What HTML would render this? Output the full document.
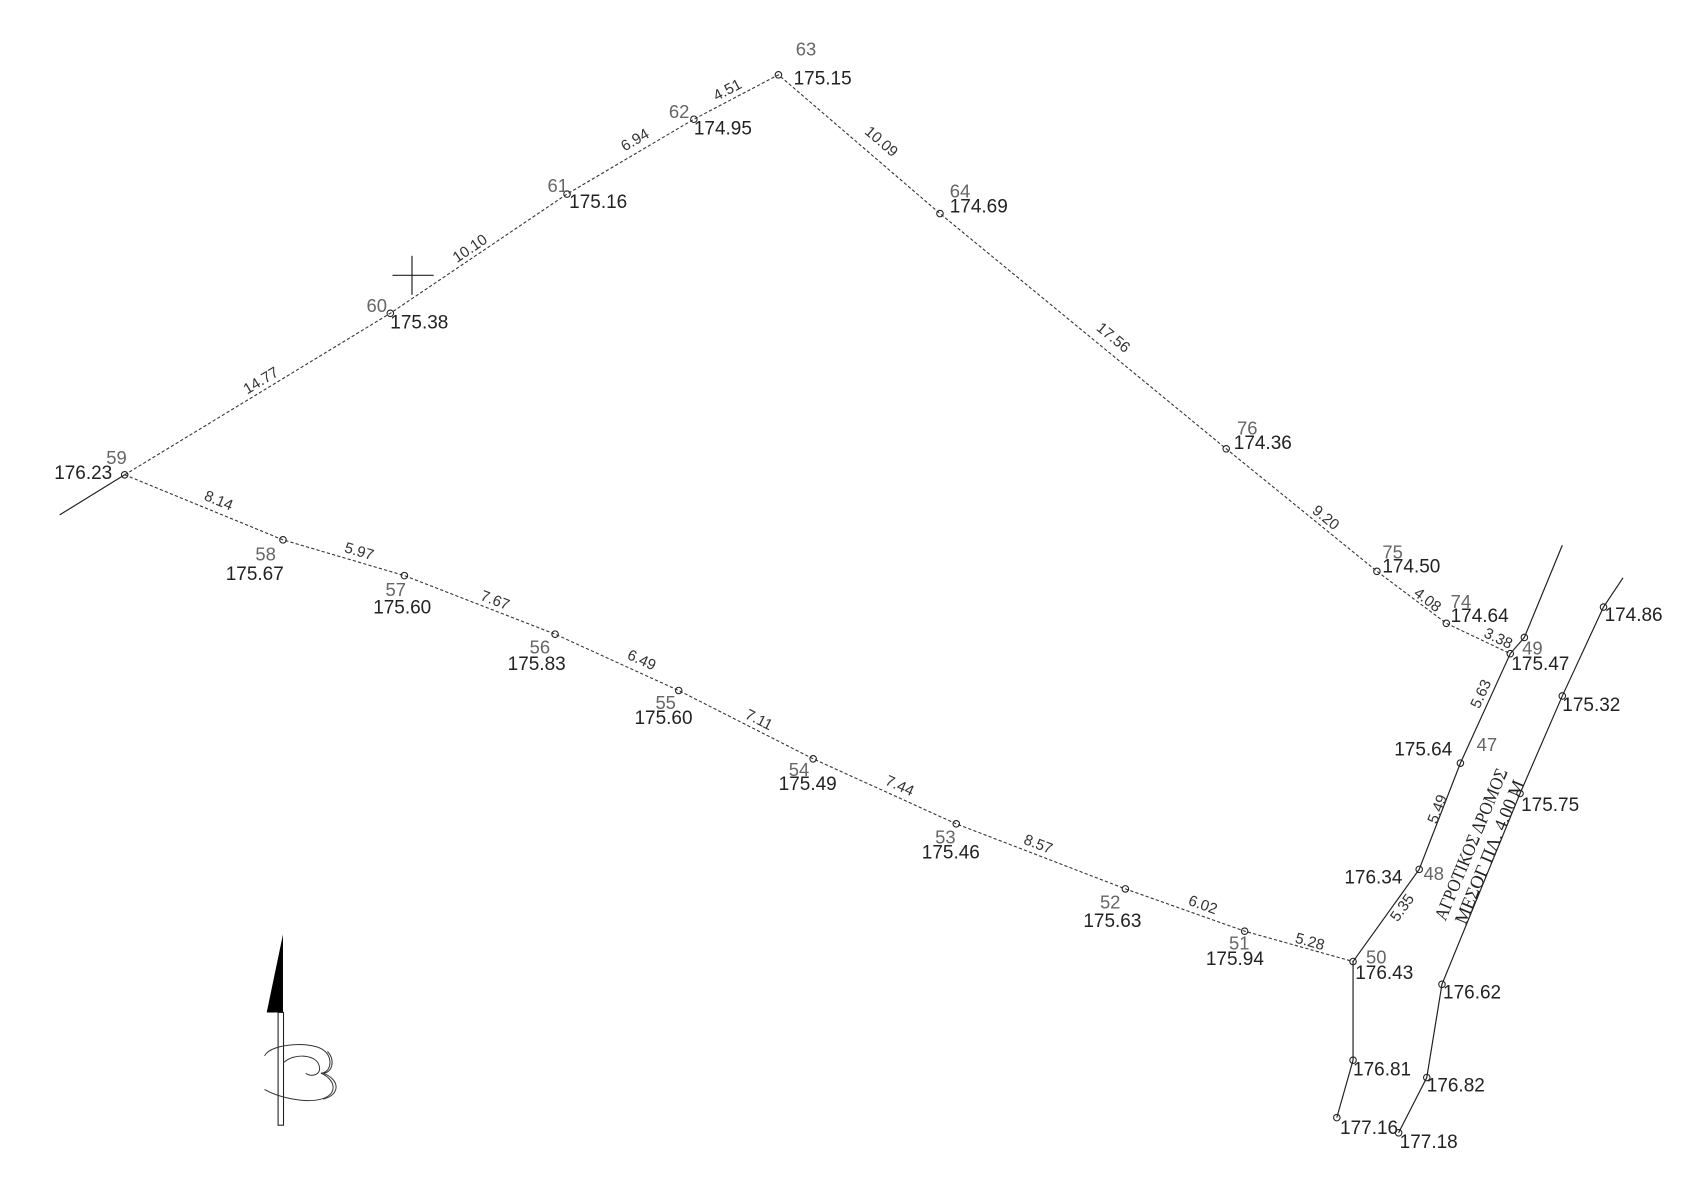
<!DOCTYPE html>
<html><head><meta charset="utf-8"><style>
html,body{margin:0;padding:0;background:#fff;width:1700px;height:1200px;overflow:hidden}
svg{display:block}
text{font-family:"Liberation Sans","DejaVu Sans",sans-serif}
.e{font-size:17.5px;fill:#222}
.n{font-size:17px;fill:#666}
.d{font-size:14px;fill:#333;text-anchor:middle}
.c{text-anchor:middle}
</style></head><body>
<svg width="1700" height="1200" viewBox="0 0 1568 1107" preserveAspectRatio="none" xmlns="http://www.w3.org/2000/svg">
<g fill="none" stroke="#333" stroke-width="1" stroke-dasharray="3,2">
<polyline points="115,438 360,289 523,179 640,110 718,69 867,197 1131,414 1270,527 1334,575 1393,603"/>
<polyline points="115,438 261,498 373,531 512,585 626,637 750,700 882,760 1038,820 1148,859 1248,887"/>
</g>
<g fill="none" stroke="#222" stroke-width="1.1">
<line x1="55" y1="475" x2="115" y2="438"/>
<polyline points="1441,503 1406,588 1393,603 1347,704 1309,802 1248,887 1248,978 1233,1031"/>
<polyline points="1497,533 1479,560 1441,642 1402,732 1330,908 1316,994 1290,1045"/>
<line x1="362" y1="254" x2="400" y2="254"/><line x1="380" y1="236" x2="380" y2="272"/>
</g>
<g fill="none" stroke="#222" stroke-width="1">
<circle cx="115" cy="438" r="3"/><circle cx="360" cy="289" r="3"/><circle cx="523" cy="179" r="3"/><circle cx="640" cy="110" r="3"/><circle cx="718" cy="69" r="3"/><circle cx="867" cy="197" r="3"/><circle cx="1131" cy="414" r="3"/><circle cx="1270" cy="527" r="3"/><circle cx="1334" cy="575" r="3"/><circle cx="1393" cy="603" r="3"/><circle cx="1406" cy="588" r="3"/>
<circle cx="261" cy="498" r="3"/><circle cx="373" cy="531" r="3"/><circle cx="512" cy="585" r="3"/><circle cx="626" cy="637" r="3"/><circle cx="750" cy="700" r="3"/><circle cx="882" cy="760" r="3"/><circle cx="1038" cy="820" r="3"/><circle cx="1148" cy="859" r="3"/><circle cx="1248" cy="887" r="3"/>
<circle cx="1347" cy="704" r="3"/><circle cx="1309" cy="802" r="3"/><circle cx="1248" cy="978" r="3"/><circle cx="1233" cy="1031" r="3"/>
<circle cx="1479" cy="560" r="3"/><circle cx="1441" cy="642" r="3"/><circle cx="1402" cy="732" r="3"/><circle cx="1330" cy="908" r="3"/><circle cx="1316" cy="994" r="3"/><circle cx="1290" cy="1045" r="3"/>
</g>
<text class="n" x="734" y="51">63</text>
<text class="n" x="617" y="109">62</text>
<text class="n" x="505" y="177">61</text>
<text class="n" x="338" y="288">60</text>
<text class="n" x="98" y="428">59</text>
<text class="n" x="876" y="182">64</text>
<text class="n" x="1141" y="401">76</text>
<text class="n" x="1275" y="515">75</text>
<text class="n" x="1338" y="561">74</text>
<text class="n" x="1404" y="604">49</text>
<text class="n c" x="245" y="517">58</text>
<text class="n c" x="365" y="550">57</text>
<text class="n c" x="498" y="603">56</text>
<text class="n c" x="614" y="654">55</text>
<text class="n c" x="737" y="716">54</text>
<text class="n c" x="872" y="778">53</text>
<text class="n c" x="1024" y="838">52</text>
<text class="n c" x="1143" y="876">51</text>
<text class="n" x="1260" y="889">50</text>
<text class="n" x="1362" y="693">47</text>
<text class="n" x="1313" y="812">48</text>
<text class="e" x="732" y="78">175.15</text>
<text class="e" x="640" y="124">174.95</text>
<text class="e" x="525" y="192">175.16</text>
<text class="e" x="360" y="303">175.38</text>
<text class="e" x="50" y="442">176.23</text>
<text class="e" x="876" y="196">174.69</text>
<text class="e" x="1138" y="414">174.36</text>
<text class="e" x="1275" y="528">174.50</text>
<text class="e" x="1338" y="574">174.64</text>
<text class="e" x="1394" y="618">175.47</text>
<text class="e c" x="235" y="535">175.67</text>
<text class="e c" x="371" y="566">175.60</text>
<text class="e c" x="495" y="618">175.83</text>
<text class="e c" x="612" y="668">175.60</text>
<text class="e c" x="745" y="729">175.49</text>
<text class="e c" x="877" y="792">175.46</text>
<text class="e c" x="1026" y="855">175.63</text>
<text class="e c" x="1139" y="890">175.94</text>
<text class="e" x="1250" y="903">176.43</text>
<text class="e" x="1286" y="697">175.64</text>
<text class="e" x="1240" y="815">176.34</text>
<text class="e" x="1248" y="992">176.81</text>
<text class="e" x="1236" y="1046">177.16</text>
<text class="e" x="1480" y="573">174.86</text>
<text class="e" x="1441" y="656">175.32</text>
<text class="e" x="1403" y="748">175.75</text>
<text class="e" x="1331" y="921">176.62</text>
<text class="e" x="1316" y="1007">176.82</text>
<text class="e" x="1291" y="1059">177.18</text>
<text class="d" transform="translate(243,355) rotate(-31.3)">14.77</text>
<text class="d" transform="translate(436,233) rotate(-34)">10.10</text>
<text class="d" transform="translate(588,133) rotate(-30.5)">6.94</text>
<text class="d" transform="translate(673,87) rotate(-27.7)">4.51</text>
<text class="d" transform="translate(810,134) rotate(40.7)">10.09</text>
<text class="d" transform="translate(1024,315) rotate(39.4)">17.56</text>
<text class="d" transform="translate(1220,481) rotate(39.1)">9.20</text>
<text class="d" transform="translate(1314,557) rotate(36.9)">4.08</text>
<text class="d" transform="translate(1380,593) rotate(25.4)">3.38</text>
<text class="d" transform="translate(200,466) rotate(22.3)">8.14</text>
<text class="d" transform="translate(330,513) rotate(16.4)">5.97</text>
<text class="d" transform="translate(455,558) rotate(21.2)">7.67</text>
<text class="d" transform="translate(590,613) rotate(24.5)">6.49</text>
<text class="d" transform="translate(698,668) rotate(26.9)">7.11</text>
<text class="d" transform="translate(828,729) rotate(24.4)">7.44</text>
<text class="d" transform="translate(956,783) rotate(21)">8.57</text>
<text class="d" transform="translate(1108,839) rotate(19.5)">6.02</text>
<text class="d" transform="translate(1207,873) rotate(15.6)">5.28</text>
<text class="d" transform="translate(1370,642) rotate(-65.5)">5.63</text>
<text class="d" transform="translate(1330,748) rotate(-68.8)">5.49</text>
<text class="d" transform="translate(1297,840) rotate(-54.3)">5.35</text>
<text transform="translate(1362,781) rotate(-67.4)" text-anchor="middle" textLength="150" lengthAdjust="spacingAndGlyphs" style="font-family:'Liberation Serif',serif;font-size:17px;fill:#222">ΑΓΡΟΤΙΚΟΣ ΔΡΟΜΟΣ</text>
<text transform="translate(1379,788) rotate(-67.4)" text-anchor="middle" textLength="142" lengthAdjust="spacingAndGlyphs" style="font-family:'Liberation Serif',serif;font-size:17px;fill:#222">ΜΕΣΟΓ ΠΛ. 4.00 Μ</text>
<polygon points="261,862 246,934 261,934" fill="#000"/>
<rect x="256.5" y="934" width="5" height="104" fill="#fff" stroke="#222" stroke-width="1"/>
<g fill="none" stroke="#333" stroke-width="0.9">
<path d="M244,974 C250,962 290,960 300,970 C308,978 304,990 296,990 C310,996 312,1010 296,1014 C280,1018 256,1012 244,1005"/>
<path d="M262,980 C270,972 290,972 294,982 C298,992 286,994 282,990"/>
<path d="M302,970 C310,978 306,990 298,990 C314,996 314,1010 298,1014"/>
</g>
</svg>
</body></html>
